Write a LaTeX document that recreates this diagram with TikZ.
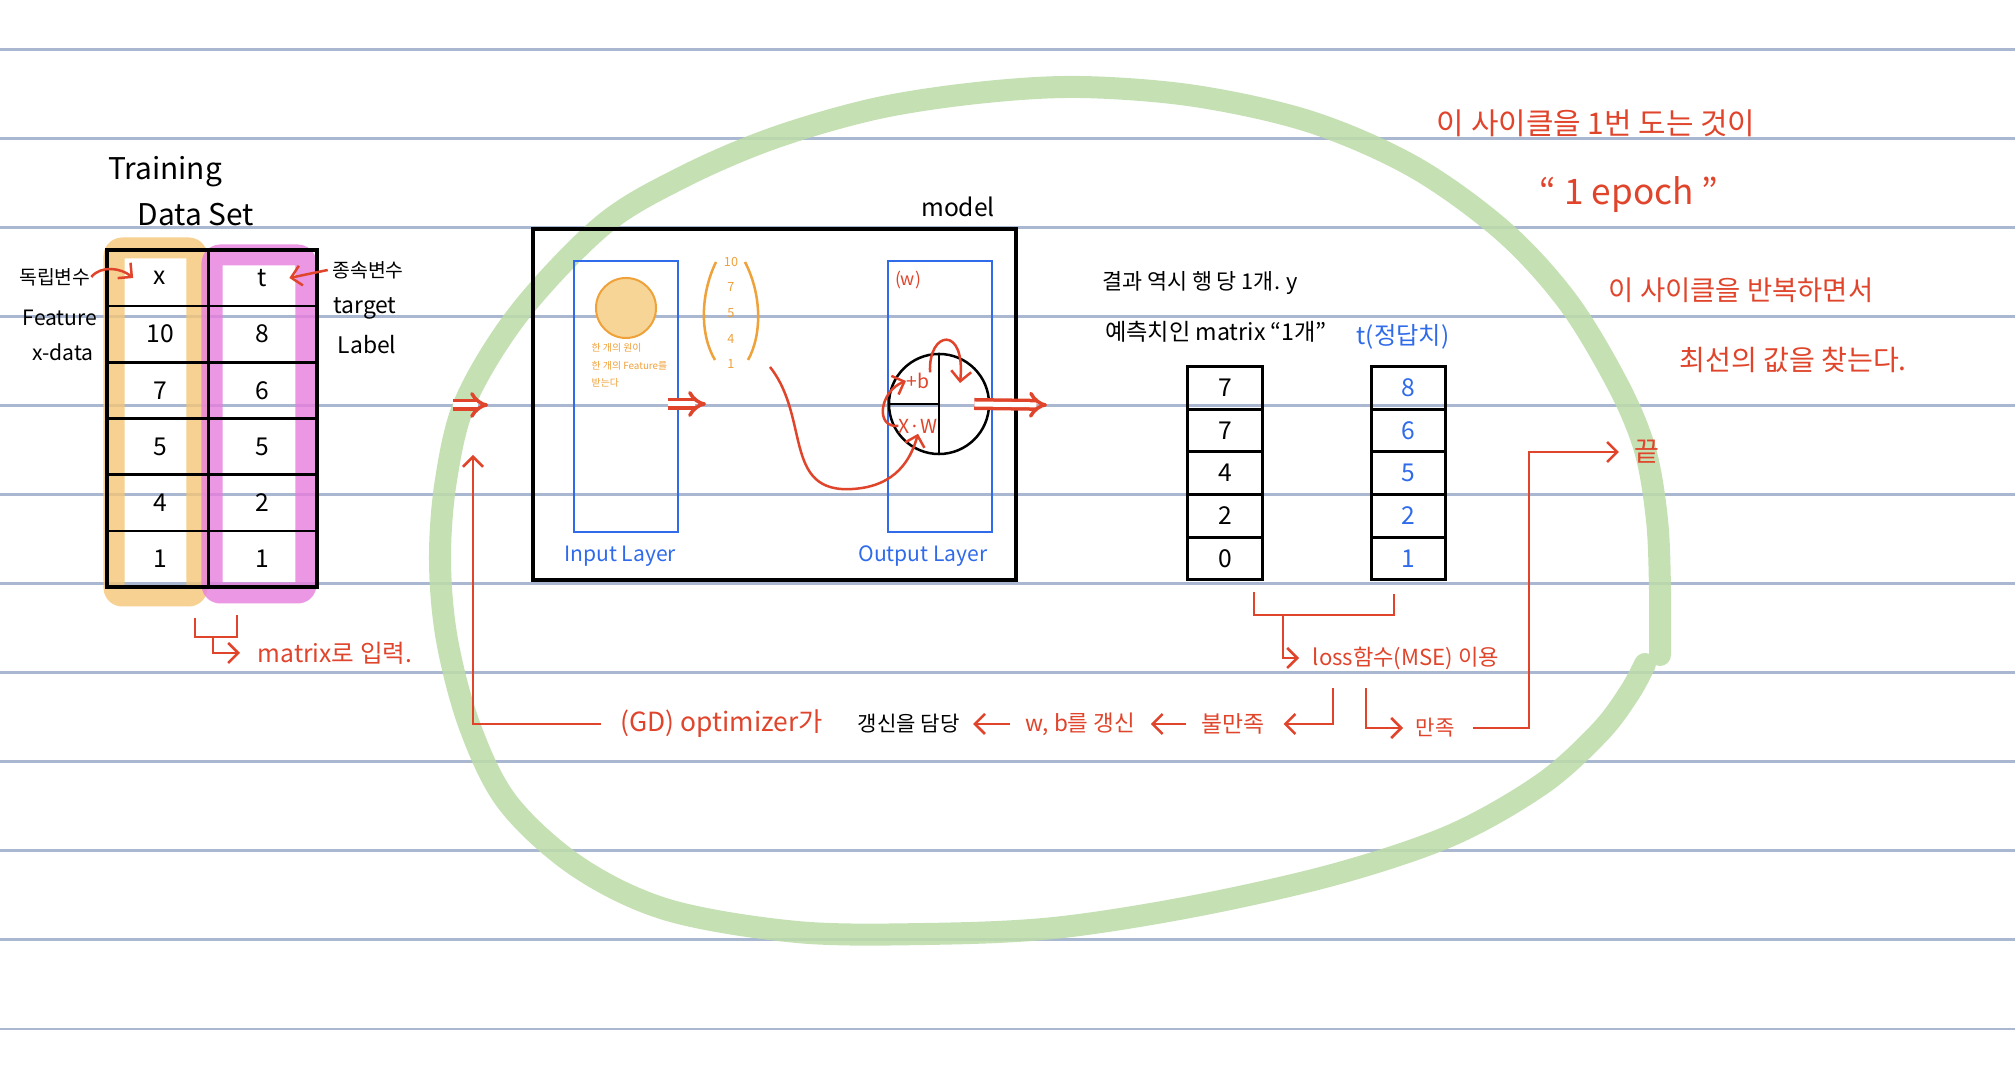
\documentclass[tikz,border=0pt]{standalone}
\usepackage{fontspec}
\setmainfont{Noto Sans CJK KR}
\usetikzlibrary{arrows.meta}

\definecolor{penred}{HTML}{E0452C}
\definecolor{penblue}{HTML}{2F6BEA}
\definecolor{penorange}{HTML}{EFA13A}
\definecolor{bulbfill}{HTML}{F7D597}
\definecolor{markorange}{HTML}{F4C676}
\definecolor{markpink}{HTML}{E77EDD}
\definecolor{loopgreen}{HTML}{BCDCA8}
\definecolor{ruleblue}{HTML}{A9B7D1}

\newcommand{\penfont}[1]{\fontsize{#1}{#1}\selectfont}

\tikzset{
  rule/.style={ruleblue, line width=0.028cm},
  txt/.style={inner sep=0pt, font=\penfont{7}},
  redtxt/.style={txt, text=penred},
  bluetxt/.style={txt, text=penblue},
  redline/.style={penred, line width=0.025cm},
  redarrow/.style={redline, -{Straight Barb[length=0.1cm,width=0.2cm]}},
  dblarrow/.style={draw=penred, double=white, line width=0.035cm, double distance=0.05cm, -{Implies}},
  layerbox/.style={draw=penblue, line width=0.022cm, minimum width=1.04cm, minimum height=2.71cm},
  cell/.style={draw, line width=0.03cm, minimum width=0.74cm, minimum height=0.426cm, inner sep=0pt, font=\penfont{7}},
  marker/.style={line width=0.21cm, rounded corners=0.08cm, line join=round},
}

\begin{document}
\begin{tikzpicture}[x=0.01cm, y=-0.01cm]
  \fill[white] (0,0) rectangle (2015,1074);
  \useasboundingbox (0,0) rectangle (2015,1074);
  \foreach \k in {0,...,11}
    \draw[rule] (0,{49.5+89.04*\k}) -- (2015,{49.5+89.04*\k});

  % the cycle
  \draw[loopgreen, opacity=0.85, line width=0.22cm, line cap=round, line join=round]
    plot[smooth, tension=0.55] coordinates {
      (1645,664) (1630,692) (1600,732) (1542,784) (1452,835) (1336,874)
      (1195,906) (1054,928) (925,934) (797,932) (668,910) (578,867)
      (508,803) (470,727) (447,640) (440,560) (446,480) (466,400)
      (520,312) (603,225) (681,178) (771,139) (874,109) (977,93)
      (1079,87) (1195,96) (1311,122) (1414,167) (1503,231) (1568,302)
      (1618,385) (1645,450) (1657,520) (1660,590) (1660,655)};

  % training data set
  \draw[marker, markorange, opacity=0.8] (114,248) rectangle (197,596);
  \draw[marker, markpink, opacity=0.8] (212,255) rectangle (306,593);
  \draw[line width=0.035cm] (107,250) rectangle (317,587);
  \draw[line width=0.03cm] (208,250) -- (208,587);
  \foreach \r in {1,...,5}
    \draw[line width=0.025cm] (107,{250+56.17*\r}) -- (317,{250+56.17*\r});
  \foreach \xv/\tv [count=\i from 0] in {x/t,10/8,7/6,5/5,4/2,1/1} {
    \node[txt] (x\i) at (160,{278+56.17*\i}) {\xv};
    \node[txt] (t\i) at (262,{278+56.17*\i}) {\tv};
  }
  \node[txt, font=\penfont{8.5}] (train) at (165,172) {Training};
  \node[txt, font=\penfont{8.5}] (dset) at (196,215) {Data Set};
  \node[txt, font=\penfont{5.5}] (indep) at (55,277) {독립변수};
  \node[txt, font=\penfont{6}] (feat) at (60,318) {Feature};
  \node[txt, font=\penfont{6}] (xdata) at (63,352) {x-data};
  \node[txt, font=\penfont{5.5}] (dep) at (368,270) {종속변수};
  \node[txt, font=\penfont{6.5}] (target) at (365,308) {target};
  \node[txt, font=\penfont{6.5}] (label) at (367,345) {Label};
  \draw[redarrow] (indep.east) .. controls +(10,-12) and +(-12,-10) .. ([xshift=-0.2cm]x0.west);
  \draw[redarrow] ([xshift=-0.04cm]dep.west) -- ([xshift=0.22cm]t0.east);

  \coordinate (brL) at (195,618);
  \coordinate (brR) at (237,615);
  \coordinate (brM) at (213,637);
  \node[redtxt, anchor=west] (mtx) at (257,653) {matrix로 입력.};
  \draw[redline] (brL) |- (brR |- brM) -- (brR);
  \draw[redarrow] (brM) |- ([xshift=-0.17cm]mtx.west);

  % model
  \node[draw, line width=0.035cm, minimum width=4.83cm, minimum height=3.51cm] (model) at (774.5,404.5) {};
  \node[txt] (mlabel) at (958,207) {model};
  \node[layerbox] (inlayer) at (626,396.5) {};
  \node[layerbox] (outlayer) at (940,396.5) {};
  \node[bluetxt, font=\penfont{6}] (inlbl) at (620,556) {Input Layer};
  \node[bluetxt, font=\penfont{6}] (outlbl) at (923,556) {Output Layer};

  \node[circle, draw=penorange, fill=bulbfill, line width=0.02cm, minimum size=0.6cm, inner sep=0pt] (bulb) at (626,308) {};
  \node[txt, text=penorange, font={\fontsize{2.8}{5}\selectfont}, align=left, anchor=north west] (bulbnote) at (591,343)
    {한 개의 원이\\한 개의 Feature를\\받는다};

  \node[txt, text=penorange, font={\fontsize{3.6}{7.3}\selectfont}, align=center] (vec) at (731,313) {10\\7\\5\\4\\1};
  \draw[penorange, line width=0.025cm] (716,262) .. controls (700,295) and (700,335) .. (715,360);
  \draw[penorange, line width=0.025cm] (745,262) .. controls (762,295) and (762,335) .. (748,360);

  \node[circle, draw, line width=0.025cm, minimum size=1cm, inner sep=0pt] (neuron) at (939,404) {};
  \draw[line width=0.025cm] (neuron.north) -- (neuron.south);
  \draw[line width=0.025cm] (neuron.west) -- (neuron.center);
  \node[redtxt, font=\penfont{5}] (wlbl) at (908,280) {(w)};
  \node[redtxt, font=\penfont{5.5}] (pb) at (918,381) {+b};
  \node[redtxt, font=\penfont{5.5}] (xw) at (918,426) {X·W};
  \coordinate (qtr) at (960,383);
  \coordinate (vecout) at (770,367);
  \draw[redarrow] (xw.west) .. controls +(-24,2) and +(-26,10) .. (pb.west);
  \draw[redarrow] (pb.north east) .. controls (928,330) and (966,325) .. (qtr);
  \draw[redarrow] (vecout) .. controls (812,420) and (780,500) .. (862,488)
    .. controls (900,482) and (912,455) .. (xw.south);

  \coordinate (inA) at (453,405);
  \coordinate (midA) at (668,404);
  \coordinate (midB) at (706,404);
  \coordinate (outB) at (1047,405);
  \draw[dblarrow, shorten >=0.43cm] (inA) -- (model.west |- inA);
  \draw[dblarrow] (midA) -- (midB);
  \draw[dblarrow] ([xshift=-0.16cm]neuron.east) -- (outB);

  % prediction vs answer
  \node[txt, font=\penfont{6.2}] (res) at (1200,283) {결과 역시 행 당 1개. y};
  \node[txt, font=\penfont{6.6}] (pred) at (1216,332) {예측치인 matrix “1개”};
  \node[bluetxt, font=\penfont{6.9}] (tans) at (1403,337) {t(정답치)};
  \foreach \v [count=\i] in {7,7,4,2,0}
    \node[cell] (p\i) at (1225,{345.4+42.6*\i}) {\v};
  \foreach \v [count=\i] in {8,6,5,2,1}
    \node[cell, text=penblue] (q\i) at (1408.5,{345.4+42.6*\i}) {\v};

  \coordinate (lbL) at (1254,592);
  \coordinate (lbR) at (1394,594);
  \coordinate (lbM) at (1283,615);
  \node[redtxt, font=\penfont{6.3}, anchor=west] (loss) at (1312,658) {loss함수(MSE) 이용};
  \draw[redline] (lbL) |- (lbR |- lbM) -- (lbR);
  \draw[redarrow] (lbM) |- ([xshift=-0.13cm]loss.west);

  % update loop
  \node[redtxt, font=\penfont{7.5}, anchor=west] (opt) at (620,724) {(GD) optimizer가};
  \node[txt, font=\penfont{6}, anchor=west] (duty) at (857,724) {갱신을 담당};
  \node[redtxt, font=\penfont{6.4}, anchor=west] (upd) at (1025,724) {w, b를 갱신};
  \node[redtxt, font=\penfont{6.5}, anchor=west] (unsat) at (1201,724) {불만족};
  \node[redtxt, font=\penfont{6}, anchor=west] (sat) at (1415,728) {만족};
  \node[redtxt, font=\penfont{7.7}] (fin) at (1647,452) {끝};
  \coordinate (lossL) at (1333,688);
  \coordinate (lossR) at (1366,688);
  \coordinate (turn) at (1529,452);
  \coordinate (fbtip) at (473,455);
  \draw[redarrow, shorten <=0.15cm, shorten >=0.13cm] (upd.west) -- (duty.east);
  \draw[redarrow, shorten <=0.15cm, shorten >=0.15cm] (unsat.west) -- (upd.east);
  \draw[redarrow, shorten >=0.18cm] (lossL) |- (unsat.east);
  \draw[redarrow, shorten >=0.12cm] (lossR) |- (sat.west);
  \draw[redarrow, shorten >=0.15cm] ([xshift=0.18cm]sat.east) -| (turn) -- (fin.west);
  \draw[redarrow] ([xshift=-0.19cm]opt.west) -| (fbtip);

  % notes
  \node[redtxt, font=\penfont{8.5}] (note1) at (1596,123) {이 사이클을 1번 도는 것이};
  \node[redtxt, font=\penfont{10}] (epoch) at (1629,195) {“ 1 epoch ”};
  \node[redtxt, font=\penfont{7.8}] (note2) at (1741,290) {이 사이클을 반복하면서};
  \node[redtxt, font=\penfont{8}] (note3) at (1793,360) {최선의 값을 찾는다.};
\end{tikzpicture}
\end{document}
